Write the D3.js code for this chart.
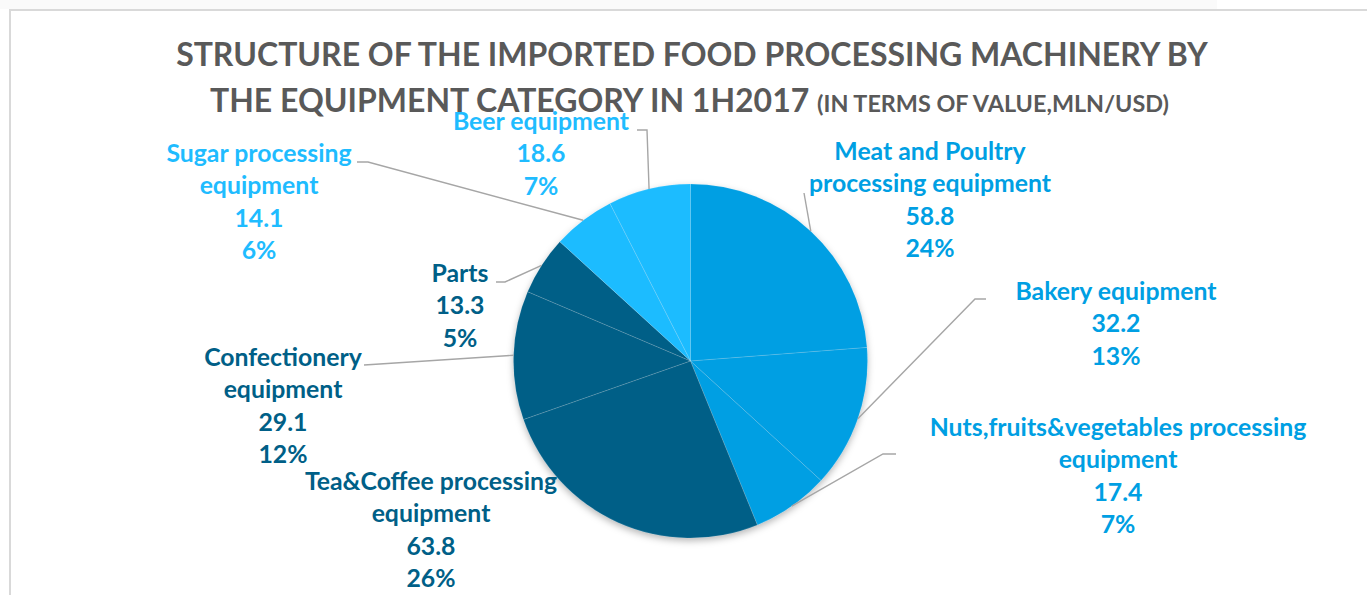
<!DOCTYPE html>
<html>
<head>
<meta charset="utf-8">
<script src="https://cdn.jsdelivr.net/npm/d3@7"></script>
<style>
  html, body { margin: 0; padding: 0; background: #ffffff; }
  svg { display: block; }
  text { font-family: Lato, "Open Sans", sans-serif; font-weight: 700; }
</style>
</head>
<body>
<svg id="chart" width="1367" height="595"></svg>
<script>
// Imported food processing machinery, 1H2017, mln USD
const categories = [
  ["Meat and Poultry", "processing equipment"],
  ["Bakery equipment"],
  ["Nuts,fruits&vegetables processing", "equipment"],
  ["Tea&Coffee processing", "equipment"],
  ["Confectionery", "equipment"],
  ["Parts"],
  ["Sugar processing", "equipment"],
  ["Beer equipment"]
];
const values = [58.8, 32.2, 17.4, 63.8, 29.1, 13.3, 14.1, 18.6];
const percentLabels = ["24%", "13%", "7%", "26%", "12%", "5%", "6%", "7%"];
const groups = ["mid", "mid", "mid", "dark", "dark", "dark", "light", "light"];

const titleLine1 = "STRUCTURE OF THE IMPORTED FOOD PROCESSING MACHINERY BY";
const titleLine2 = "THE EQUIPMENT CATEGORY IN 1H2017";
const titleUnits = "(IN TERMS OF VALUE,MLN/USD)";

// presentation
const palette = { mid: "#009fe3", dark: "#005f87", light: "#1fbcff" };
const cx = 690.5, cy = 361, radius = 177;
const lineStep = 32.4;

// label anchors (centre x, first baseline) and leader elbows
const labelLayout = [
  { x: 930,  y: 160, path: [[804, 193]] },
  { x: 1116, y: 300, path: [[975, 299], [986, 299]] },
  { x: 1118, y: 436, path: [[883, 454], [896, 454]] },
  { x: 431,  y: 490, path: null },
  { x: 283,  y: 366, path: [[372, 364.5], [364, 365]] },
  { x: 460,  y: 282, path: [[505, 282], [496, 282]] },
  { x: 259,  y: 162, path: [[368, 162], [357, 162]] },
  { x: 541,  y: 130, path: [[647, 130], [637, 130]] }
];

const svg = d3.select("#chart");

// frame
svg.append("rect").attr("x", 0).attr("y", 0).attr("width", 1217).attr("height", 9).attr("fill", "#fafafa");
svg.append("line").attr("x1", 9).attr("x2", 1367).attr("y1", 10).attr("y2", 10)
  .attr("stroke", "#d9d9d9").attr("stroke-width", 2);
svg.append("line").attr("x1", 10).attr("x2", 10).attr("y1", 10).attr("y2", 595)
  .attr("stroke", "#d9d9d9").attr("stroke-width", 2);

// helper to size a font so a string spans a given width
function fitSize(str, width, weight) {
  const t = svg.append("text").attr("font-size", 100).attr("font-weight", weight || 700).text(str);
  const w = t.node().getComputedTextLength();
  t.remove();
  return 100 * width / w;
}

const titleSize = fitSize(titleLine1, 1032);
const unitsSize = fitSize(titleUnits, 352);
const labelSize = fitSize(categories[2][0], 377);

// title
svg.append("text")
  .attr("x", 692).attr("y", 66)
  .attr("text-anchor", "middle")
  .attr("font-size", titleSize)
  .attr("fill", "#595959")
  .text(titleLine1);

const t2 = svg.append("text")
  .attr("x", 689.5).attr("y", 112)
  .attr("text-anchor", "middle")
  .attr("fill", "#595959");
t2.append("tspan").attr("font-size", titleSize).text(titleLine2 + " ");
t2.append("tspan").attr("font-size", unitsSize).text(titleUnits);

// pie
const defs = svg.append("defs");
const shadow = defs.append("filter").attr("id", "pieShadow")
  .attr("x", "-20%").attr("y", "-20%").attr("width", "140%").attr("height", "140%");
shadow.append("feDropShadow").attr("dx", 0).attr("dy", 3).attr("stdDeviation", 3.5)
  .attr("flood-color", "#000").attr("flood-opacity", 0.28);

const pie = d3.pie().sort(null).value(d => d)(values);
const arc = d3.arc().innerRadius(0).outerRadius(radius);

const pieG = svg.append("g").attr("transform", `translate(${cx},${cy})`);
pieG.append("g").attr("filter", "url(#pieShadow)")
  .selectAll("path").data(pie).join("path")
  .attr("d", arc)
  .attr("fill", (d, i) => palette[groups[i]]);
pieG.append("g")
  .selectAll("path").data(pie).join("path")
  .attr("d", arc)
  .attr("fill", "none")
  .attr("stroke", "rgba(255,255,255,0.18)")
  .attr("stroke-width", 0.6);

// leader lines
pie.forEach((d, i) => {
  const lay = labelLayout[i];
  if (!lay.path) return;
  const mid = (d.startAngle + d.endAngle) / 2;
  const start = [cx + radius * Math.sin(mid), cy - radius * Math.cos(mid)];
  svg.append("path")
    .attr("d", d3.line()([start, ...lay.path]))
    .attr("fill", "none")
    .attr("stroke", "#a6a6a6")
    .attr("stroke-width", 1.4);
});

// data labels
pie.forEach((d, i) => {
  const lay = labelLayout[i];
  const lines = [...categories[i], values[i].toFixed(1), percentLabels[i]];
  const t = svg.append("text")
    .attr("text-anchor", "middle")
    .attr("font-size", labelSize)
    .attr("fill", palette[groups[i]]);
  lines.forEach((ln, k) => {
    t.append("tspan").attr("x", lay.x).attr("y", lay.y + k * lineStep).text(ln);
  });
});
</script>
</body>
</html>
